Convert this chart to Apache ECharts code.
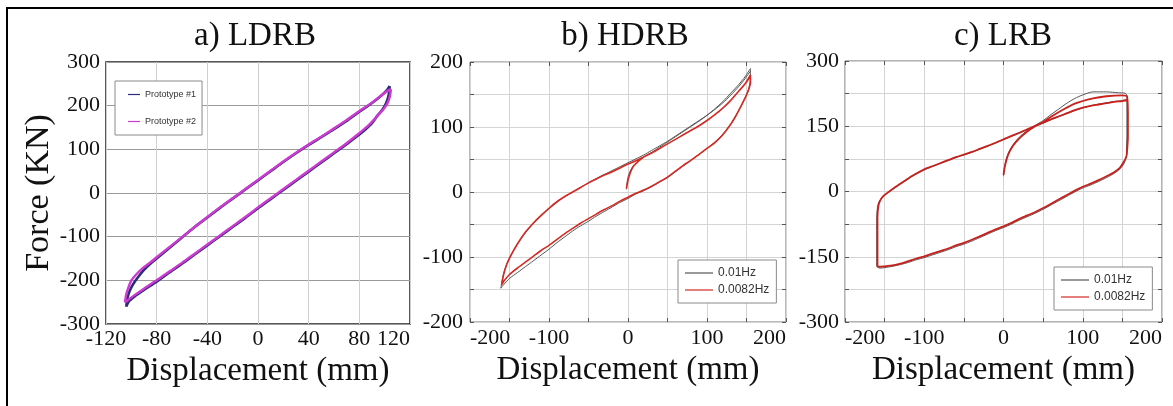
<!DOCTYPE html>
<html>
<head>
<meta charset="utf-8">
<script src="https://cdn.jsdelivr.net/npm/echarts@6/dist/echarts.min.js"></script>
<style>
html,body{margin:0;padding:0;background:#fff;}
#chart{width:1173px;height:406px;}
</style>
</head>
<body>
<div id="chart"></div>
<script>
// ---------- titles & labels ----------
const panelTitles = ['a) LDRB', 'b) HDRB', 'c) LRB'];
const xAxisTitle = 'Displacement (mm)';
const yAxisTitle = 'Force (KN)';
const ldrbNames = ['Prototype #1', 'Prototype #2'];
const freqNames = ['0.01Hz', '0.0082Hz'];

// ---------- a) LDRB (displacement mm, force kN) ----------
const ldrbProto1 = [
  [104,245],[103,222],[101,205],[98,190],[94,176],[90,160],[85,146],[80,134],[70,112],[60,91],[50,70],[40,49],[30,28],[20,7],[10,-14],[0,-35],[-10,-57],[-20,-78],[-30,-99],[-40,-120],[-50,-141],[-60,-162],[-70,-182],[-80,-203],[-90,-222],[-97,-236],[-102,-248],[-104,-260],
  [-103,-240],[-101,-222],[-98,-206],[-94,-190],[-90,-176],[-85,-162],[-80,-150],[-70,-126],[-60,-102],[-50,-78],[-40,-56],[-30,-34],[-20,-13],[-10,8],[0,29],[10,50],[20,71],[30,91],[40,110],[50,128],[60,146],[70,165],[80,186],[90,206],[97,222],[102,236],[104,245]
];
const ldrbProto2 = [
  [105,238],[104,220],[102,204],[99,192],[95,179],[90,163],[85,149],[80,137],[70,114],[60,93],[50,72],[40,51],[30,30],[20,9],[10,-12],[0,-33],[-10,-55],[-20,-76],[-30,-97],[-40,-118],[-50,-139],[-60,-160],[-70,-180],[-80,-200],[-90,-219],[-98,-235],[-103,-246],[-105,-250],
  [-104,-232],[-102,-214],[-100,-200],[-96,-186],[-91,-172],[-85,-159],[-80,-147],[-70,-124],[-60,-101],[-50,-78],[-40,-55],[-30,-33],[-20,-12],[-10,9],[0,30],[10,51],[20,72],[30,92],[40,111],[50,129],[60,148],[70,167],[80,188],[90,207],[98,225],[103,235],[105,238]
];

// ---------- b) HDRB ----------
const hdrbSlow = [
  [-2,4],[-1,16],[1,27],[4,35],[8,42],[14,48],[20,54],[30,61],[40,69],[50,77],[60,85],[70,93],[80,101],[90,109],[100,118],[110,128],[120,139],[130,152],[140,165],[148,177],[155,190],
  [155,176],[153,160],[149,147],[144,134],[137,119],[130,105],[120,89],[110,77],[100,67],[90,58],[80,49],[70,40],[60,31],[50,22],[40,15],[30,8],[20,2],[10,-3],[0,-10],[-10,-16],[-20,-23],[-30,-30],[-40,-37],[-50,-45],[-60,-52],[-70,-60],[-80,-69],[-90,-78],[-100,-88],[-110,-97],[-120,-106],[-130,-115],[-140,-124],[-150,-133],[-157,-142],[-161,-148],
  [-158,-128],[-154,-112],[-149,-99],[-141,-82],[-130,-63],[-120,-49],[-110,-37],[-100,-26],[-90,-16],[-80,-7],[-70,0],[-60,7],[-50,14],[-40,21],[-30,27],[-20,33],[-10,39],[0,45],[10,51],[20,57],[30,64],[40,71],[50,78],[60,86],[70,94],[80,102],[90,110],[100,118],[110,127],[120,137],[130,149],[140,162],[148,174],[155,186]
];
const hdrbFast = [
  [-2,5],[0,18],[3,30],[7,40],[12,46],[20,54],[30,60],[40,67],[50,74],[60,81],[70,88],[80,95],[90,102],[100,110],[110,119],[120,129],[130,141],[140,155],[148,166],[155,180],
  [155,168],[152,155],[148,144],[143,132],[137,118],[130,104],[120,88],[110,76],[100,67],[90,58],[80,49],[70,41],[60,32],[50,23],[40,16],[30,9],[20,3],[10,-2],[0,-8],[-10,-14],[-20,-21],[-30,-27],[-40,-34],[-50,-41],[-60,-48],[-70,-56],[-80,-64],[-90,-73],[-100,-82],[-110,-90],[-120,-99],[-130,-108],[-140,-117],[-150,-127],[-157,-137],[-160,-143],
  [-157,-125],[-153,-110],[-148,-97],[-140,-80],[-130,-62],[-120,-48],[-110,-36],[-100,-25],[-90,-15],[-80,-7],[-70,0],[-60,7],[-50,14],[-40,20],[-30,26],[-20,31],[-10,37],[0,43],[10,48],[20,54],[30,60],[40,67],[50,74],[60,81],[70,88],[80,95],[90,102],[100,110],[110,119],[120,129],[130,141],[140,155],[148,166],[155,178]
];

// ---------- c) LRB ----------
const lrbSlow = [
  [0,35],[1,52],[3,72],[7,92],[13,110],[20,125],[30,140],[40,152],[50,163],[60,177],[70,190],[80,203],[90,214],[100,222],[113,229],[130,229],[145,227],[153,226],[156,220],
  [156,170],[156,125],[156,95],[155,80],[152,64],[147,52],[140,42],[130,32],[120,23],[110,15],[100,8],[90,-1],[80,-11],[70,-21],[60,-31],[50,-41],[40,-50],[30,-58],[20,-66],[10,-75],[0,-83],[-10,-90],[-20,-98],[-30,-106],[-40,-114],[-50,-121],[-60,-127],[-70,-134],[-80,-140],[-90,-146],[-100,-152],[-110,-157],[-120,-163],[-130,-168],[-140,-172],[-150,-175],[-156,-176],[-160,-172],
  [-160,-120],[-160,-60],[-159,-36],[-157,-23],[-152,-12],[-145,-2],[-135,11],[-125,23],[-115,35],[-100,50],[-90,57],[-80,64],[-70,71],[-60,78],[-50,84],[-40,90],[-30,97],[-20,104],[-10,111],[0,119],[10,127],[20,134],[30,142],[40,150],[50,157],[60,165],[70,172],[80,179],[90,186],[100,192],[110,197],[120,201],[130,204],[140,207],[150,209],[156,212],
  [156,180],[156,130],[155,92]
];
const lrbFast = [
  [0,38],[2,60],[6,85],[12,105],[20,122],[30,138],[40,150],[50,160],[60,172],[75,188],[90,202],[113,214],[130,219],[150,221],[156,218],
  [157,170],[157,125],[156,95],[155,80],[151,66],[147,55],[140,45],[130,35],[120,26],[110,18],[100,11],[90,2],[80,-8],[70,-18],[60,-28],[50,-38],[40,-47],[30,-55],[20,-63],[10,-72],[0,-80],[-10,-87],[-20,-95],[-30,-103],[-40,-111],[-50,-118],[-60,-124],[-70,-131],[-80,-137],[-90,-143],[-100,-149],[-110,-154],[-120,-160],[-130,-166],[-140,-170],[-150,-172],[-156,-173],[-159,-170],
  [-159,-120],[-159,-60],[-158,-35],[-156,-22],[-152,-11],[-145,-1],[-135,12],[-125,24],[-115,36],[-100,51],[-90,58],[-80,65],[-70,72],[-60,79],[-50,85],[-40,91],[-30,98],[-20,105],[-10,112],[0,120],[10,128],[20,135],[30,143],[40,151],[50,158],[60,166],[70,173],[80,180],[90,187],[100,193],[110,197],[120,200],[130,203],[140,206],[150,208],[156,210],
  [157,180],[157,130],[156,92]
];

// ---------- axis ranges ----------
const ldrbX = {min:-120, max:120, step:40};
const ldrbY = {min:-300, max:300, step:100};
const hdrbX = {min:-200, max:200, step:50, label:100};
const hdrbY = {min:-200, max:200, step:50, label:100};
const lrbX  = {min:-200, max:200, step:50, label:100};
const lrbY  = {min:-300, max:300, step:75, label:150};

// ---------- styling ----------
const SERIF = "'Liberation Serif','Times New Roman',serif";
const SANS = "'Liberation Sans',Arial,sans-serif";
const grids = [
  {left:106, top:62, width:304, height:262, border:'#222', bw:1.5},
  {left:470, top:62, width:316, height:260, border:'#777', bw:1},
  {left:845, top:61, width:317, height:261, border:'#666', bw:1}
];
const TICK_IN = {show:true, inside:true, length:4, lineStyle:{color:'#555'}};
const NO_LINE = {show:false, onZero:false};

function labelFmt(r) {
  return v => (r.label && v % r.label !== 0) ? '' : String(v);
}
function bottomAxis(gi, r, extra) {
  return Object.assign({
    type:'value', gridIndex:gi, min:r.min, max:r.max, interval:r.step,
    position:'bottom',
    name:xAxisTitle, nameLocation:'middle', nameGap:31,
    nameTextStyle:{fontFamily:SERIF, fontSize:33, color:'#111'},
    axisLine:NO_LINE,
    axisTick:{show:false},
    splitLine:{show:true, lineStyle:{color:'#d4d4d4', width:1}}
  }, extra);
}
function leftAxis(gi, r, extra) {
  return Object.assign({
    type:'value', gridIndex:gi, min:r.min, max:r.max, interval:r.step,
    position:'left',
    axisLine:NO_LINE,
    axisTick:{show:false},
    splitLine:{show:true, lineStyle:{color:'#d4d4d4', width:1}}
  }, extra);
}
function tickOnlyAxis(gi, r, pos) {
  return {
    type:'value', gridIndex:gi, min:r.min, max:r.max, interval:r.step, position:pos,
    axisLine:NO_LINE, axisTick:TICK_IN,
    axisLabel:{show:false}, splitLine:{show:false}
  };
}

const xAxes = [
  bottomAxis(0, ldrbX, {nameGap:30,
    axisLabel:{fontFamily:SERIF, fontSize:22, color:'#111', margin:4, alignMaxLabel:'right'},
    splitLine:{show:true, lineStyle:{color:'#cfcfcf'}}}),
  bottomAxis(1, hdrbX, {axisTick:TICK_IN,
    axisLabel:{fontFamily:SERIF, fontSize:22, color:'#111', margin:5, alignMinLabel:'left', alignMaxLabel:'right', formatter:labelFmt(hdrbX)}}),
  bottomAxis(2, lrbX, {axisTick:TICK_IN,
    axisLabel:{fontFamily:SERIF, fontSize:22, color:'#111', margin:5, alignMinLabel:'left', alignMaxLabel:'right', formatter:labelFmt(lrbX)}}),
  tickOnlyAxis(1, hdrbX, 'top'),
  tickOnlyAxis(2, lrbX, 'top')
];
const yAxes = [
  leftAxis(0, ldrbY, {name:yAxisTitle, nameLocation:'middle', nameGap:50, nameRotate:90,
    nameTextStyle:{fontFamily:SERIF, fontSize:34, color:'#111'},
    axisLabel:{fontFamily:SERIF, fontSize:22, color:'#111', margin:6},
    splitLine:{show:true, lineStyle:{color:'#9a9a9a'}}}),
  leftAxis(1, hdrbY, {axisTick:TICK_IN,
    axisLabel:{fontFamily:SERIF, fontSize:22, color:'#111', margin:7, formatter:labelFmt(hdrbY)}}),
  leftAxis(2, lrbY, {axisTick:TICK_IN,
    axisLabel:{fontFamily:SERIF, fontSize:22, color:'#111', margin:6, formatter:labelFmt(lrbY)}}),
  tickOnlyAxis(1, hdrbY, 'right'),
  tickOnlyAxis(2, lrbY, 'right')
];

function loop(name, data, xi, yi, color, width, z) {
  return {
    type:'line', name:name, data:data, xAxisIndex:xi, yAxisIndex:yi,
    symbol:'none', smooth:0.25, z:z || 2,
    lineStyle:{color:color, width:width}, itemStyle:{color:color},
    emphasis:{disabled:true}, animation:false
  };
}

const legendBase = {
  orient:'vertical', backgroundColor:'#fff', borderColor:'#8a8a8a', borderWidth:1,
  borderRadius:0, icon:'rect', itemWidth:28, itemHeight:1.2, itemGap:3, padding:[6,7,6,7],
  itemStyle:{borderWidth:0},
  textStyle:{fontFamily:SANS, fontSize:12, color:'#333', lineHeight:14}
};

const option = {
  backgroundColor:'#fff',
  animation:false,
  title: panelTitles.map((t, i) => ({
    text:t, left:[255,625,1003][i], top:20, textAlign:'center', padding:0,
    textStyle:{fontFamily:SERIF, fontSize:33, fontWeight:'normal', color:'#111'}
  })),
  grid: grids.map(g => ({left:g.left, top:g.top, width:g.width, height:g.height,
    outerBoundsMode:'none', containLabel:false,
    show:true, borderColor:g.border, borderWidth:g.bw, backgroundColor:'transparent'})),
  xAxis: xAxes,
  yAxis: yAxes,
  legend: [
    Object.assign({}, legendBase, {data:ldrbNames, left:115, top:81, itemWidth:12, itemGap:16,
      padding:[8,6,8,13], textStyle:{fontFamily:SANS, fontSize:9, color:'#333', lineHeight:11}}),
    Object.assign({}, legendBase, {data:freqNames, left:678, top:260}),
    Object.assign({}, legendBase, {data:freqNames, left:1054, top:267})
  ],
  graphic: [{
    type:'rect', silent:true, z:100,
    shape:{x:7, y:8, width:1300, height:600},
    style:{fill:'none', stroke:'#000', lineWidth:2}
  }],
  series: [
    loop(ldrbNames[0], ldrbProto1, 0, 0, '#2c2c7c', 2.6, 3),
    loop(ldrbNames[1], ldrbProto2, 0, 0, '#cc3ad0', 2.4, 4),
    loop(freqNames[0], hdrbSlow, 1, 1, '#555555', 1, 3),
    loop(freqNames[1], hdrbFast, 1, 1, '#d42a24', 1.6, 4),
    loop(freqNames[0], lrbSlow, 2, 2, '#555555', 1, 3),
    loop(freqNames[1], lrbFast, 2, 2, '#c8201c', 1.8, 4)
  ]
};

const chart = echarts.init(document.getElementById('chart'), null, {renderer:'canvas'});
chart.setOption(option);
</script>
</body>
</html>
